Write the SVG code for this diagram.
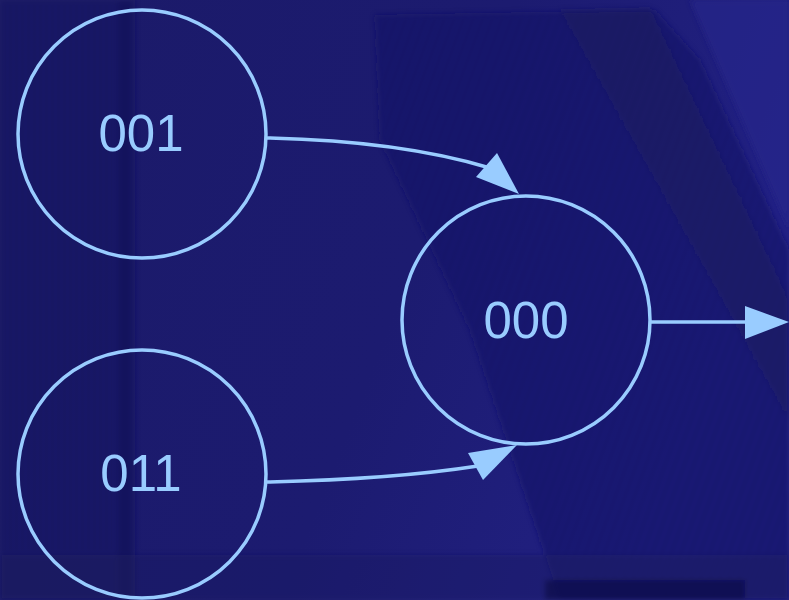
<svg xmlns="http://www.w3.org/2000/svg" width="789" height="600" viewBox="0 0 789 600">
  <defs>
    <style>
      .state { fill: none; stroke: #99ccff; stroke-width: 3.5; }
      .label { fill: #99ccff; font-family: "Liberation Sans", Arial, sans-serif; font-size: 51px; text-anchor: middle; }
      .edge { fill: none; stroke: #99ccff; stroke-width: 3.5; }
      .head { fill: #99ccff; }
    </style>
    <pattern id="streaks" width="9" height="9" patternUnits="userSpaceOnUse" patternTransform="rotate(20)">
      <rect x="0" y="0" width="2" height="9" fill="#14145a" opacity="0.5"/>
    </pattern>
    <pattern id="grid" width="6" height="6" patternUnits="userSpaceOnUse">
      <rect x="0" y="0" width="3" height="2" fill="#15155c" opacity="0.6"/>
    </pattern>
    <linearGradient id="bg" x1="0" y1="0" x2="1" y2="0.3">
      <stop offset="0" stop-color="#1b1a68"/>
      <stop offset="0.6" stop-color="#1c1b70"/>
      <stop offset="1" stop-color="#222184"/>
    </linearGradient>
    <filter id="soft" x="-5%" y="-5%" width="110%" height="110%">
      <feGaussianBlur stdDeviation="2.5"/>
    </filter>
  </defs>

  <!-- backdrop: dark blue die photograph -->
  <rect width="789" height="600" fill="url(#bg)"/>
  <g id="backdrop" filter="url(#soft)">
    <!-- left column of cells -->
    <rect x="0" y="0" width="135" height="600" fill="#17175f" opacity="0.5"/>
    <rect x="0" y="0" width="135" height="600" fill="url(#grid)" opacity="0.5"/>
    <rect x="118" y="0" width="14" height="600" fill="#141456" opacity="0.4"/>
    <!-- slanted block upper right -->
    <polygon points="375,15 655,10 700,60 789,250 789,600 560,600 470,330 380,140" fill="#19196a" opacity="0.6"/>
    <polygon points="375,15 655,10 700,60 789,250 789,600 560,600 470,330 380,140" fill="url(#streaks)" opacity="0.6"/>
    <polygon points="560,10 650,8 789,300 789,420 700,260" fill="#15155a" opacity="0.4"/>
    <polygon points="690,0 789,0 789,230" fill="#24238c" opacity="0.6"/>
    <!-- lower band -->
    <rect x="0" y="555" width="789" height="45" fill="#17175e" opacity="0.4"/>
    <rect x="545" y="580" width="200" height="20" fill="#11114a" opacity="0.7"/>
  </g>

  <g id="connectors">
    <path class="edge" d="M267,138 C360,140 430,150 490,168"/>
    <polygon class="head" points="519,194 476,177 497,153"/>
    <path class="edge" d="M267,482 C360,480 420,475 478,466"/>
    <polygon class="head" points="517,445 468,453 483,480"/>
    <line class="edge" x1="651" y1="322" x2="748" y2="322"/>
    <polygon class="head" points="789,322 745,306 745,339"/>
  </g>

  <g id="state-001">
    <circle class="state" cx="142" cy="134" r="124"/>
    <text class="label" x="141" y="151">001</text>
  </g>
  <g id="state-011">
    <circle class="state" cx="142" cy="474" r="124"/>
    <text class="label" x="141" y="491">011</text>
  </g>
  <g id="state-000">
    <circle class="state" cx="526" cy="320" r="124"/>
    <text class="label" x="526" y="338">000</text>
  </g>
</svg>
